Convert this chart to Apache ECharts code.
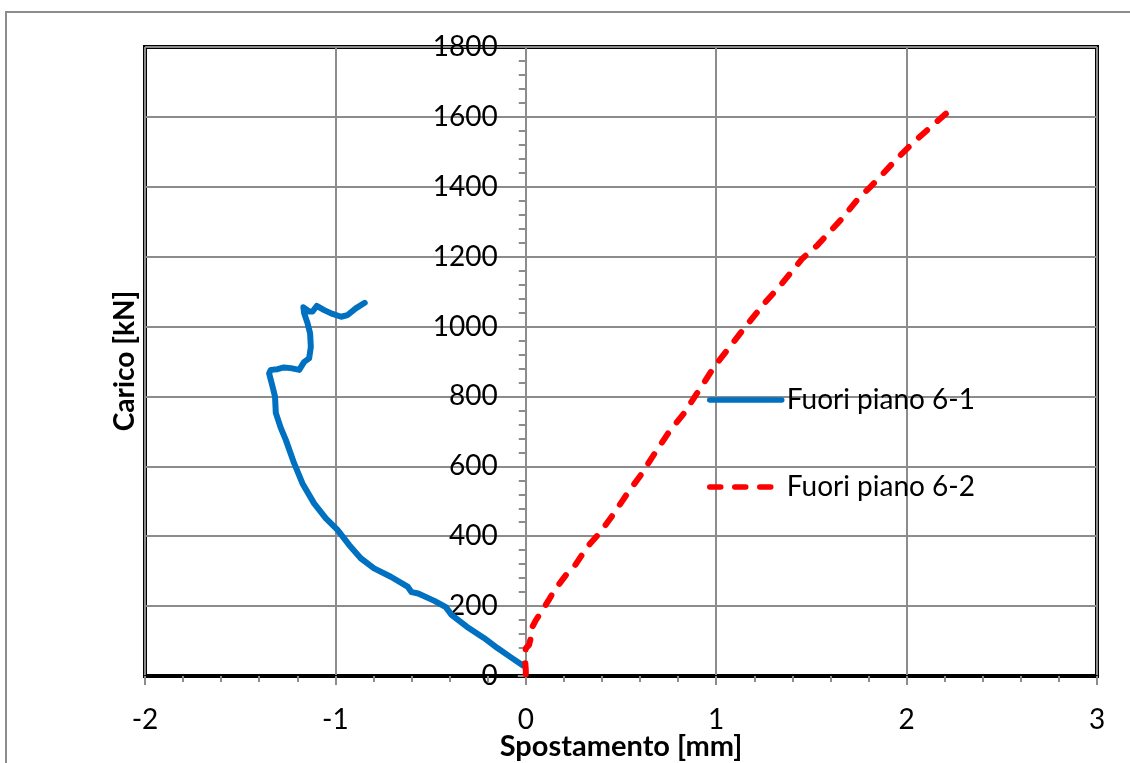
<!DOCTYPE html>
<html>
<head>
<meta charset="utf-8">
<script src="https://cdn.jsdelivr.net/npm/echarts@6/dist/echarts.min.js"></script>
<style>
  html, body { margin: 0; padding: 0; background: #fff; }
  #chart { width: 1130px; height: 763px; }
</style>
</head>
<body>
<div id="chart"></div>
<script>
// Fuori piano 6-1: spostamento [mm] / carico [kN]
const disp61 = [-0.015, -0.08, -0.149, -0.22, -0.31, -0.39, -0.42, -0.48, -0.565, -0.6, -0.621, -0.709, -0.797, -0.867, -0.928, -0.989, -1.05, -1.112, -1.173, -1.217, -1.26, -1.287, -1.313, -1.317, -1.33, -1.348, -1.339, -1.304, -1.27, -1.234, -1.19, -1.164, -1.138, -1.129, -1.133, -1.146, -1.164, -1.168, -1.138, -1.12, -1.098, -1.059, -1.015, -0.97, -0.936, -0.893, -0.846];
const load61 = [30, 54, 80, 109, 141, 175, 197, 215, 236, 240, 256, 284, 308, 337, 375, 418, 451, 494, 551, 609, 675, 710, 753, 799, 828, 866, 876, 878, 883, 881, 876, 899, 909, 942, 981, 1009, 1038, 1055, 1043, 1043, 1059, 1047, 1036, 1028, 1033, 1052, 1068];

// Fuori piano 6-2
const disp62 = [0, 0, -0.005, 0, 0.017, 0.026, 0.026, 0.035, 0.053, 0.088, 0.12, 0.15, 0.185, 0.215, 0.254, 0.324, 0.394, 0.464, 0.534, 0.604, 0.683, 0.753, 0.831, 0.893, 0.945, 0.989, 1.059, 1.147, 1.26, 1.339, 1.453, 1.532, 1.654, 1.74, 1.81, 1.87, 1.95, 2.03, 2.11, 2.197, 2.25];
const load62 = [5, 17, 55, 79, 89, 108, 127, 141, 160, 189, 217, 245, 270, 292, 313, 370, 413, 466, 523, 575, 642, 699, 752, 804, 847, 885, 933, 995, 1071, 1119, 1195, 1233, 1305, 1362, 1400, 1434, 1481, 1524, 1563, 1605, 1627];

const seriesNames = ['Fuori piano 6-1', 'Fuori piano 6-2'];
const xTitle = 'Spostamento [mm]';
const yTitle = 'Carico [kN]';

const X_MIN = -2, X_MAX = 3;
const FONT = 'Lato, "Open Sans", sans-serif';
const GRID_GRAY = '#8c8c8c';

const GRID = { left: 145, top: 47, right: 33, bottom: 87 };
const plotWidth = 1130 - GRID.left - GRID.right;
// the load axis stands at zero displacement, inside the plot
const yAxisShift = plotWidth * (0 - X_MIN) / (X_MAX - X_MIN);

const toPairs = (xs, ys) => xs.map((x, i) => [x, ys[i]]);

const titleStyle = (text) => ({
  text, fontFamily: FONT, fontSize: 28, fontWeight: 'bold',
  fill: '#000', align: 'center', verticalAlign: 'middle'
});

const chart = echarts.init(document.getElementById('chart'), null, { renderer: 'canvas' });

chart.setOption({
  backgroundColor: '#fff',
  animation: false,
  textStyle: { fontFamily: FONT },
  grid: Object.assign({}, GRID, {
    outerBoundsMode: 'none',
    containLabel: false,
    show: true, borderColor: '#000', borderWidth: 4, backgroundColor: 'transparent'
  }),
  graphic: [
    {
      type: 'rect', silent: true, z: -10,
      shape: { x: 6, y: 12, width: 1200, height: 1000 },
      style: { fill: 'none', stroke: GRID_GRAY, lineWidth: 2 }
    },
    {
      type: 'text', silent: true,
      x: 125, y: 361, rotation: Math.PI / 2,
      style: titleStyle(yTitle)
    },
    {
      type: 'text', silent: true,
      x: 621, y: 747,
      style: Object.assign(titleStyle(xTitle), { fontSize: 29 })
    }
  ],
  legend: {
    orient: 'vertical',
    left: 707, top: 386, padding: 0,
    itemWidth: 72, itemHeight: 14, itemGap: 59,
    data: seriesNames,
    itemStyle: { opacity: 0 },
    lineStyle: { width: 5.5 },
    textStyle: { fontFamily: FONT, fontSize: 28, color: '#000' }
  },
  xAxis: {
    type: 'value',
    min: X_MIN, max: X_MAX, interval: 1,
    axisLine: { onZero: false, lineStyle: { color: '#000', width: 2 } },
    axisTick: { show: true, length: 9, lineStyle: { color: GRID_GRAY, width: 2 } },
    minorTick: { show: true, splitNumber: 5, length: 6, lineStyle: { color: GRID_GRAY, width: 2 } },
    axisLabel: { fontFamily: FONT, fontSize: 28, color: '#000', margin: 30, formatter: v => String(v) },
    splitLine: { show: true, lineStyle: { color: GRID_GRAY, width: 2 } }
  },
  yAxis: {
    type: 'value',
    min: 0, max: 1800, interval: 200,
    position: 'left',
    offset: -yAxisShift,
    axisLine: { show: true, onZero: false, lineStyle: { color: GRID_GRAY, width: 2 } },
    axisTick: { show: true, length: 8, lineStyle: { color: GRID_GRAY, width: 2 } },
    minorTick: { show: true, splitNumber: 5, length: 7, lineStyle: { color: GRID_GRAY, width: 2 } },
    axisLabel: {
      fontFamily: FONT, fontSize: 28, color: '#000', margin: 28,
      showMinLabel: true, showMaxLabel: true, formatter: v => String(v)
    },
    splitLine: { show: true, lineStyle: { color: GRID_GRAY, width: 2 } }
  },
  series: [
    {
      name: seriesNames[0], type: 'line',
      data: toPairs(disp61, load61),
      showSymbol: false, symbol: 'none',
      lineStyle: { color: '#0070C0', width: 6, cap: 'round', join: 'round' },
      itemStyle: { color: '#0070C0' }
    },
    {
      name: seriesNames[1], type: 'line',
      data: toPairs(disp62, load62),
      showSymbol: false, symbol: 'none',
      lineStyle: { color: '#FF0000', width: 6, type: [11, 14], cap: 'round', join: 'round' },
      itemStyle: { color: '#FF0000' }
    }
  ]
});
</script>
</body>
</html>
